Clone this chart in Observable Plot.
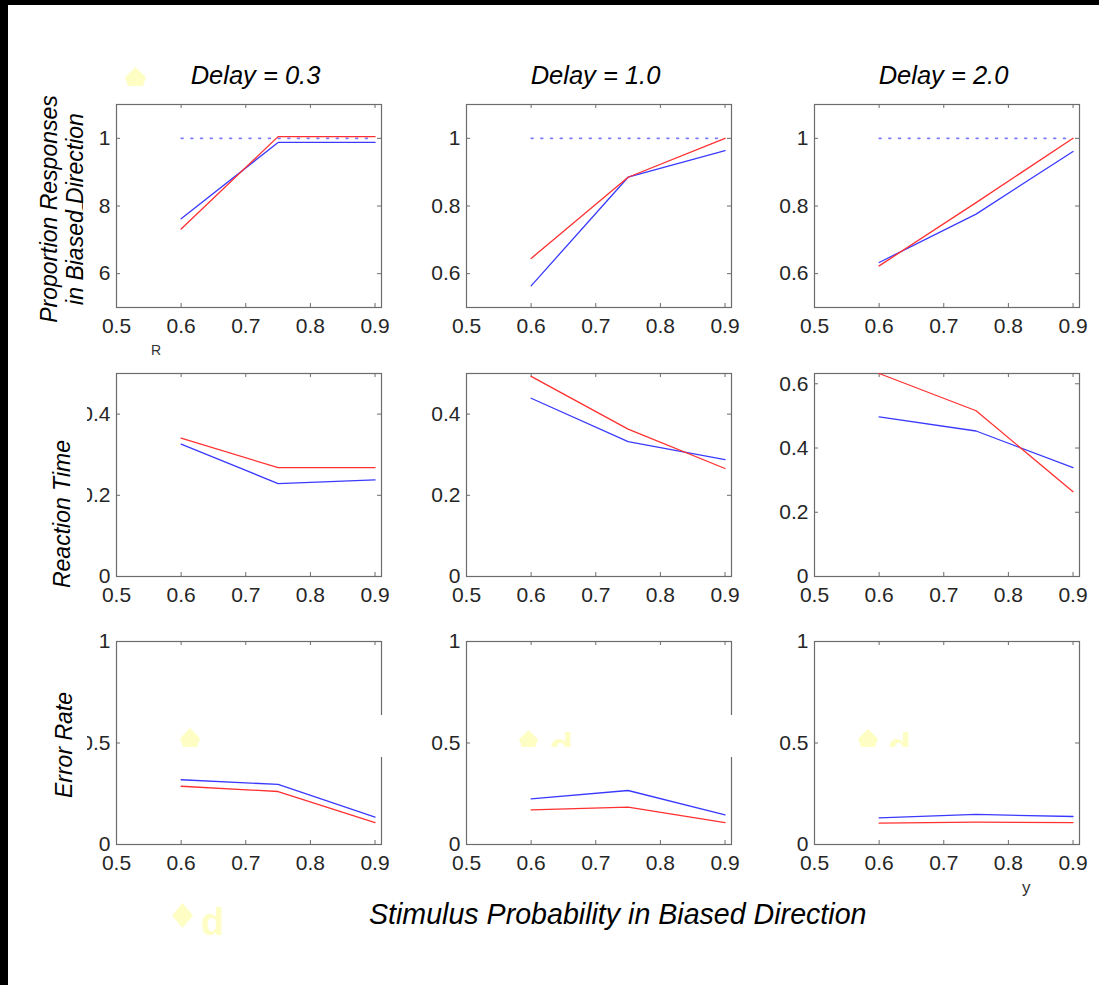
<!DOCTYPE html>
<html>
<head>
<meta charset="utf-8">
<script src="https://cdn.jsdelivr.net/npm/d3@7"></script>
<script src="https://cdn.jsdelivr.net/npm/@observablehq/plot@0.6"></script>
<style>
  html, body { margin: 0; padding: 0; background: #000; }
  #root { position: relative; width: 1099px; height: 985px; overflow: hidden; background: #000; font-family: "Liberation Sans", Arial, Helvetica, sans-serif; }
  #paper { position: absolute; left: 8px; top: 5px; width: 1091px; height: 980px; background: #fff; }
  .panel { position: absolute; z-index: 1; }
  .panel svg { max-width: none; display: block; }
  .cover { position: absolute; background: #fff; z-index: 2; }
  .txt { position: absolute; z-index: 3; color: #000; white-space: nowrap; }
  .title { font-style: italic; font-size: 25.5px; line-height: 26px; text-align: center; width: 300px; }
  .ylab { font-style: italic; font-size: 23px; line-height: 26px; text-align: center; transform: rotate(-90deg); }
  .yl { position: absolute; background: #fdfdc4; z-index: 3; }
  .yd { position: absolute; color: #fdfdc4; font-weight: bold; font-size: 38px; line-height: 38px; z-index: 3; }
</style>
</head>
<body>
<div id="root">
  <div id="paper"></div>
</div>
<script>
// ---------------- data ----------------
const stimulusProb = [0.6, 0.75, 0.9];
const delayLabels = ["Delay = 0.3", "Delay = 1.0", "Delay = 2.0"];
const rowLabels = ["Proportion Responses\nin Biased Direction", "Reaction Time", "Error Rate"];
const xLabel = "Stimulus Probability in Biased Direction";

// proportion of responses in biased direction [delay][prob]
const propRed  = [[0.732, 1.005, 1.005], [0.645, 0.885, 1.000], [0.623, 0.810, 1.000]];
const propBlue = [[0.762, 0.988, 0.988], [0.564, 0.885, 0.964], [0.633, 0.776, 0.961]];
// reaction time
const rtRed    = [[0.341, 0.268, 0.268], [0.493, 0.363, 0.266], [0.632, 0.516, 0.264]];
const rtBlue   = [[0.326, 0.229, 0.238], [0.439, 0.332, 0.288], [0.497, 0.453, 0.339]];
// error rate
const errRed   = [[0.287, 0.261, 0.108], [0.171, 0.184, 0.108], [0.105, 0.110, 0.108]];
const errBlue  = [[0.319, 0.296, 0.135], [0.225, 0.266, 0.146], [0.131, 0.148, 0.138]];

// optimal (dotted) reference in row 1
const optimalX = [0.6, 0.9];
const optimalY = [1, 1];

// axes
const xDomain = [0.5, 0.91];
const xTickLabels = [0.5, 0.6, 0.7, 0.8, 0.9];
const yDomains = [
  [[0.5, 1.1], [0.5, 1.1], [0.5, 1.1]],
  [[0, 0.5], [0, 0.5], [0, 0.632]],
  [[0, 1], [0, 1], [0, 1]]
];
const yTickSets = [
  [[0.6, 0.8, 1], [0.6, 0.8, 1], [0.6, 0.8, 1]],
  [[0, 0.2, 0.4], [0, 0.2, 0.4], [0, 0.2, 0.4, 0.6]],
  [[0, 0.5, 1], [0, 0.5, 1], [0, 0.5, 1]]
];

// ---------------- layout ----------------
const panelLeft = [116, 466, 814];
const panelTop = [104, 373, 641];
const PW = 265, PH = 203;
const ML = 60, MR = 14, MT = 10, MB = 44;
const frameColor = "#6c6c6c";
const redColor = "#ff3030";
const blueColor = "#3a3aff";

const rows = [[propRed, propBlue], [rtRed, rtBlue], [errRed, errBlue]];
const root = document.getElementById("root");

function seriesRows(arr) {
  return stimulusProb.map((x, i) => ({x, y: arr[i]}));
}

for (let r = 0; r < 3; r++) {
  for (let c = 0; c < 3; c++) {
    const [redArr, blueArr] = rows[r];
    const yT = yTickSets[r][c];
    const innerX = xTickLabels.filter(d => d > 0.5);
    const marks = [
      Plot.frame({stroke: frameColor, strokeWidth: 1.2}),
      Plot.tickX(innerX, {x: d => d, insetBottom: PH - 4, stroke: frameColor}),
      Plot.tickX(innerX, {x: d => d, insetTop: PH - 4, stroke: frameColor}),
      Plot.tickY(yT, {y: d => d, insetRight: PW - 4, stroke: frameColor}),
      Plot.tickY(yT, {y: d => d, insetLeft: PW - 4, stroke: frameColor}),
      Plot.axisX(xTickLabels, {tickSize: 0, tickPadding: 11, tickFormat: d => String(d), fill: "#262626", label: null}),
      Plot.axisY(yT, {tickSize: 0, tickPadding: 6, tickFormat: d => String(d), fill: "#262626", label: null})
    ];
    if (r === 0) {
      marks.push(Plot.line(optimalX.map((x, i) => ({x, y: optimalY[i]})), {
        x: "x", y: "y", stroke: "#7a7aff", strokeWidth: 1.6, strokeDasharray: "2 7.7"
      }));
    }
    marks.push(Plot.line(seriesRows(blueArr[c]), {x: "x", y: "y", stroke: blueColor, strokeWidth: 1.3}));
    marks.push(Plot.line(seriesRows(redArr[c]), {x: "x", y: "y", stroke: redColor, strokeWidth: 1.3}));

    const svg = Plot.plot({
      width: PW + ML + MR,
      height: PH + MT + MB,
      marginLeft: ML, marginRight: MR, marginTop: MT, marginBottom: MB,
      x: {domain: xDomain, axis: null},
      y: {domain: yDomains[r][c], axis: null},
      style: {background: "transparent", fontSize: "21px", fontFamily: "'Liberation Sans', Arial, Helvetica, sans-serif", overflow: "visible"},
      marks
    });
    const holder = document.createElement("div");
    holder.className = "panel";
    holder.style.left = (panelLeft[c] - ML) + "px";
    holder.style.top = (panelTop[r] - MT) + "px";
    holder.appendChild(svg);
    root.appendChild(holder);
  }
}

// ---------------- text ----------------
function addDiv(cls, text, css) {
  const d = document.createElement("div");
  d.className = cls;
  d.textContent = text;
  Object.assign(d.style, css);
  root.appendChild(d);
  return d;
}
// column titles
delayLabels.forEach((t, c) => {
  const cx = panelLeft[c] + PW / 2 + (c === 0 ? 7 : -3);
  addDiv("txt title", t, {left: (cx - 150) + "px", top: "62px"});
});
// row labels (rotated)
const rowCenters = [[62, 209], [62, 514], [64, 745]];
rowLabels.forEach((t, r) => {
  const lines = t.split("\n");
  const h = lines.length * 26;
  const w = 280;
  const d = addDiv("txt ylab", "", {left: (rowCenters[r][0] - w / 2) + "px", top: (rowCenters[r][1] - h / 2) + "px", width: w + "px", height: h + "px"});
  lines.forEach(line => { const s = document.createElement("div"); s.textContent = line; d.appendChild(s); });
});
// x label
addDiv("txt", xLabel, {left: "369px", top: "899px", fontStyle: "italic", fontSize: "28.6px", lineHeight: "30px"});
// small stray labels
addDiv("txt", "R", {left: "151px", top: "343px", fontSize: "14px", lineHeight: "14px", color: "#333"});
addDiv("txt", "y", {left: "1022px", top: "879px", fontSize: "17px", lineHeight: "17px", color: "#333"});

// white patches
[[83, 190, 14.8, 100], [72, 395, 14.5, 110], [72, 725, 14.5, 35], [377, 715, 9, 42], [726, 715, 9, 42]]
  .forEach(([l, t, w, h]) => {
    const d = document.createElement("div");
    d.className = "cover";
    Object.assign(d.style, {left: l + "px", top: t + "px", width: w + "px", height: h + "px"});
    root.appendChild(d);
  });

// pale yellow marks
const pent = "polygon(50% 0%, 100% 55%, 85% 100%, 15% 100%, 0% 55%)";
const diamond = "polygon(50% 0%, 100% 50%, 50% 100%, 0% 50%)";
[[125, 67, 21, 19, pent], [180, 728, 20, 19, pent], [519, 730, 19, 17, pent], [858, 729, 20, 18, pent], [172, 903, 21, 25, diamond]]
  .forEach(([l, t, w, h, cp]) => {
    const d = document.createElement("div");
    d.className = "yl";
    Object.assign(d.style, {left: l + "px", top: t + "px", width: w + "px", height: h + "px", clipPath: cp});
    root.appendChild(d);
  });
// "d" glyphs
addDiv("yd", "d", {left: "201px", top: "903px"});
[[549, 729], [887, 729]].forEach(([l, t]) => {
  const box = document.createElement("div");
  Object.assign(box.style, {position: "absolute", left: l + "px", top: t + "px", width: "26px", height: "18px", overflow: "hidden", zIndex: 3});
  const s = document.createElement("div");
  s.className = "yd";
  s.textContent = "d";
  Object.assign(s.style, {left: "1px", top: "-1px"});
  box.appendChild(s);
  root.appendChild(box);
});
</script>
</body>
</html>
